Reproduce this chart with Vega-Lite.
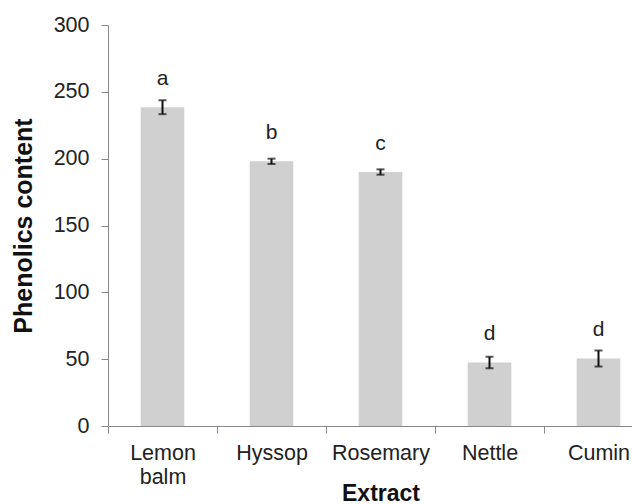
{
  "$schema": "https://vega.github.io/schema/vega-lite/v6.json",
  "autosize": {"type": "none"},
  "width": 524,
  "height": 401,
  "padding": {"left": 108, "top": 25, "right": 0, "bottom": 78},
  "background": "white",
  "config": {
    "view": {"stroke": null},
    "font": "Liberation Sans",
    "axis": {"labelFont": "Liberation Sans", "titleFont": "Liberation Sans"}
  },
  "data": {
    "values": [
      {"extract": "Lemon balm", "mean": 238.5, "sd": 5.2, "group": "a"},
      {"extract": "Hyssop", "mean": 198, "sd": 2, "group": "b"},
      {"extract": "Rosemary", "mean": 190, "sd": 2, "group": "c"},
      {"extract": "Nettle", "mean": 47.5, "sd": 4.3, "group": "d"},
      {"extract": "Cumin", "mean": 50.5, "sd": 6, "group": "d"}
    ]
  },
  "encoding": {
    "x": {
      "field": "extract",
      "type": "nominal",
      "sort": null,
      "scale": {"range": [0, 545], "paddingInner": 0, "paddingOuter": 0},
      "axis": {
        "title": "Extract",
        "titleFontSize": 23,
        "titleFontWeight": "bold",
        "titleColor": "#111",
        "titleBaseline": "alphabetic",
        "titleY": 74,
        "labelAngle": 0,
        "labelFontSize": 21.5,
        "labelColor": "#222",
        "labelBaseline": "alphabetic",
        "labelPadding": 26,
        "labelLineHeight": 24,
        "labelExpr": "datum.value == 'Lemon balm' ? ['Lemon', 'balm'] : datum.value",
        "tickBand": "extent",
        "tickSize": 7,
        "tickColor": "#888",
        "domainColor": "#888",
        "grid": false
      }
    }
  },
  "layer": [
    {
      "mark": {"type": "bar", "color": "#d0d0d0", "width": {"band": 0.4}},
      "encoding": {
        "y": {
          "field": "mean",
          "type": "quantitative",
          "scale": {"domain": [0, 300], "nice": false},
          "axis": {
            "title": "Phenolics content",
            "titleFontSize": 25,
            "titleFontWeight": "bold",
            "titleColor": "#111",
            "titleBaseline": "alphabetic",
            "titleX": -77,
            "values": [0, 50, 100, 150, 200, 250, 300],
            "labelFontSize": 21.5,
            "labelColor": "#222",
            "labelPadding": 12,
            "tickSize": 7,
            "tickColor": "#888",
            "domainColor": "#888",
            "grid": false
          }
        }
      }
    },
    {
      "mark": {"type": "text", "fontSize": 21, "color": "#222", "baseline": "alphabetic", "dy": -22.5},
      "encoding": {
        "y": {"field": "mean", "type": "quantitative"},
        "text": {"field": "group"}
      }
    },
    {
      "transform": [
        {"calculate": "datum.mean - datum.sd", "as": "lo"},
        {"calculate": "datum.mean + datum.sd", "as": "hi"}
      ],
      "layer": [
        {
          "mark": {"type": "rule", "color": "#111", "strokeWidth": 2},
          "encoding": {
            "y": {"field": "lo", "type": "quantitative"},
            "y2": {"field": "hi"}
          }
        },
        {
          "mark": {"type": "tick", "color": "#111", "thickness": 2, "size": 8, "orient": "horizontal"},
          "encoding": {"y": {"field": "lo", "type": "quantitative"}}
        },
        {
          "mark": {"type": "tick", "color": "#111", "thickness": 2, "size": 8, "orient": "horizontal"},
          "encoding": {"y": {"field": "hi", "type": "quantitative"}}
        }
      ]
    }
  ]
}
